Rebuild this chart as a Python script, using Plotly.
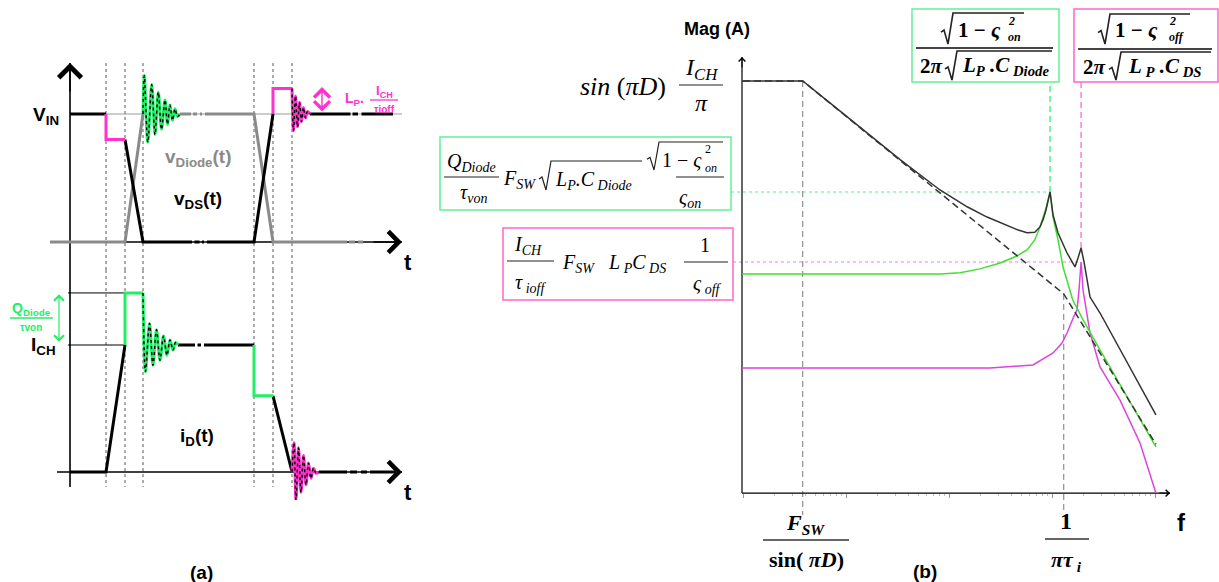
import plotly.graph_objects as go

W, H = 1219, 582
SANS = "Liberation Sans"
SERIF = "Liberation Serif"
PINK = "#ff33cc"
GREEN = "#22ee66"
GRAY = "#8a8a8a"

# ---------------- (a) switching waveforms (time in a.u.) ----------------
t_edges = [36, 55, 73, 184, 203, 222]

# v_DS(t) normalised to V_IN
vds_t = [0, 36, None, 55, 73, 122, None, 124.5, 129.5, None, 132, 134, None, 137, 184, 203,
         None, 240, 280.5, None, 282.5, 288, None, 291.5, 323]
vds_v = [1, 1, None, 0.8, 0, 0, None, 0, 0, None, 0, 0, None, 0, 0, 1,
         None, 1, 1, None, 1, 1, None, 1, 1]
vds_step_t = [36, 36, 55, None, 203, 203, 222]
vds_step_v = [1, 0.8, 0.8, None, 1, 1.2, 1.2]
vds_ring_t = [222, 223.5, 225.5, 227.5, 229.5, 231.5, 233.5, 235.5, 237.5, 240]
vds_ring_v = [1.2, 0.87, 1.14, 0.9, 1.09, 0.94, 1.05, 0.97, 1.02, 1.0]

# v_Diode(t)
vdio_t = [-20, 55, 73, None, 110, 121, None, 123, 127, None, 130, 132, None, 135, 184, 203, 277,
          None, 279, 285, None, 288, 293]
vdio_v = [0, 0, 1, None, 1, 1, None, 1, 1, None, 1, 1, None, 1, 1, 0, 0,
          None, 0, 0, None, 0, 0]
vdio_ring_t = [73, 74.3, 77.8, 81.7, 85, 88.3, 91.5, 95, 97.5, 100, 102.5, 105, 107.5, 110]
vdio_ring_v = [1.0, 1.30, 0.78, 1.23, 0.84, 1.17, 0.88, 1.11, 0.92, 1.07, 0.95, 1.04, 0.98, 1.0]

# i_D(t) normalised to I_CH
id_t = [0, 36, 55, None, 108, 125, None, 127.5, 131, None, 134, 184, None, 203, 222,
        None, 249, 277, None, 280, 287, None, 291, 297, None, 300, 325]
id_i = [0, 0, 1, None, 1, 1, None, 1, 1, None, 1, 1, None, 0.6, 0,
        None, 0, 0, None, 0, 0, None, 0, 0, None, 0, 0]
id_step_t = [55, 55, 73, None, 184, 184, 203]
id_step_i = [1, 1.41, 1.41, None, 1, 0.6, 0.6]
id_ring_on_t = [73, 75.5, 79.5, 83, 86.5, 90, 93.5, 97, 100, 103, 105.5, 108]
id_ring_on_i = [1.41, 0.79, 1.17, 0.84, 1.12, 0.88, 1.07, 0.92, 1.04, 0.96, 1.02, 1.0]
id_ring_off_t = [222, 224, 226, 228.5, 231, 233.5, 236, 238.5, 241, 243.5, 246, 249]
id_ring_off_i = [0, 0.23, -0.22, 0.19, -0.16, 0.13, -0.1, 0.07, -0.05, 0.03, -0.01, 0]

i_peak = 1.41

# ---------------- (b) spectrum magnitude (normalised, log-log) ----------------
f_knee = 3.8      # Fsw / sin(pi D)
f_i = 1300        # 1 / (pi tau_i)
f_on = 957
f_off = 1914

env_f = [1, 3.8, 1300, 10200]
env_m = [1, 1, 0.00292, 4.74e-5]

tot_f = [0.978, 3.8, 10, 33.5, 81.7, 150, 234, 320, 470, 572, 680, 764, 820, 874, 957,
         1023, 1144, 1399, 1672, 1787, 1914, 2046, 2339, 2925, 10200]
tot_m = [1, 1, 0.385, 0.116, 0.0504, 0.0318, 0.024, 0.0205, 0.0168, 0.0156, 0.0158, 0.0183,
         0.0225, 0.0291, 0.0477, 0.0254, 0.0155, 0.00896, 0.00611, 0.00781, 0.01028, 0.0070,
         0.00268, 0.00173, 1.06e-4]

on_f = [0.978, 82, 128, 200, 313, 450, 572, 680, 764, 820, 874, 957, 1023, 1144, 1279, 1589,
        2004, 2925, 10200]
on_m = [0.00504, 0.00504, 0.0052, 0.0058, 0.00681, 0.0082, 0.00973, 0.0128, 0.0183, 0.0235,
        0.0308, 0.0477, 0.0240, 0.0128, 0.00611, 0.00247, 0.00143, 6.28e-4, 4.4e-5]

off_f = [0.978, 250, 654, 1023, 1250, 1399, 1620, 1749, 1828, 1914, 2000, 2188, 2339, 2925,
         4571, 7145, 10200]
off_m = [3.83e-4, 3.83e-4, 4.16e-4, 5.78e-4, 7.6e-4, 0.001, 0.00155, 0.00188, 0.00325,
         0.0070, 0.00325, 0.00164, 0.001, 3.94e-4, 1.59e-4, 4.9e-5, 1.245e-5]
m_on_pk = 0.0477
m_tot_off_pk = 0.01028
m_off_pk = 0.0070

# ---------------- layout helpers ----------------
X3_RANGE = [-0.1748, 4.621]
Y3_RANGE = [-5.345, 0.964]
X3_DOM = [725 / W, 1.0]
Y3_DOM = [1 - 530 / H, 1.0]


def f_px(px):
    return 10 ** (X3_RANGE[0] + (px - 725) / 103.0)


def m_px(py):
    return 10 ** (Y3_RANGE[1] - py / 84.0)


fig = go.Figure()


def line(x, y, color, width, xa="x", ya="y", dash="solid", shape="linear"):
    fig.add_trace(go.Scatter(x=x, y=y, mode="lines", xaxis=xa, yaxis=ya,
                             line=dict(color=color, width=width, dash=dash, shape=shape),
                             hoverinfo="skip", showlegend=False))


annotations = []
shapes = []


def txt(x, y, s, size, color="black", family=SANS, xanchor="center"):
    annotations.append(dict(x=x / W, y=1 - y / H, xref="paper", yref="paper", text=s,
                            showarrow=False, xanchor=xanchor, yanchor="middle",
                            font=dict(size=size, color=color, family=family)))


def bar(x0, x1, y, color="#222", width=1.2, dash="solid"):
    shapes.append(dict(type="line", xref="paper", yref="paper", x0=x0 / W, x1=x1 / W,
                       y0=1 - y / H, y1=1 - y / H, line=dict(color=color, width=width, dash=dash)))


def rad(x0, ytop, ybot, x1, color="#222", width=1.2):
    h = ybot - ytop
    pts = [(x0, ytop + 0.62 * h), (x0 + 3, ytop + 0.55 * h), (x0 + 7, ybot),
           (x0 + 12, ytop), (x1, ytop)]
    path = "M " + " L ".join(f"{x / W:.5f},{1 - y / H:.5f}" for x, y in pts)
    shapes.append(dict(type="path", xref="paper", yref="paper", path=path,
                       line=dict(color=color, width=width)))


def box(x0, y0, x1, y1, color):
    shapes.append(dict(type="rect", xref="paper", yref="paper", x0=x0 / W, x1=x1 / W,
                       y0=1 - y1 / H, y1=1 - y0 / H, line=dict(color=color, width=1.5)))


def arrow(x, y, ax, ay, xref, yref, color, size, width, both=False):
    annotations.append(dict(x=x, y=y, ax=ax, ay=ay, xref=xref, yref=yref, axref="pixel",
                            ayref="pixel", text="", showarrow=True, arrowhead=4,
                            arrowsize=size, arrowwidth=width, arrowcolor=color,
                            arrowside="end+start" if both else "end"))


# ---------------- panel (a) top: voltages ----------------
v_tip, v_low = 1.398, -0.22
dots_t, dots_v = [], []
for t in t_edges:
    dots_t += [t, t, None]
    dots_v += [v_tip, v_low, None]
line(dots_t, dots_v, "#555", 1, dash="dot")
line([0, 332], [1, 1], "#9a9a9a", 1)
line([-20, 332], [0, 0], "black", 1.3)
line([0, 0], [v_low, v_tip], "black", 1.6)
line(vdio_t, vdio_v, GRAY, 3)
line(vdio_ring_t, vdio_ring_v, GREEN, 3, shape="spline")
line(vdio_ring_t, vdio_ring_v, "black", 1.4, dash="dot", shape="spline")
line(vds_t, vds_v, "black", 3)
line(vds_step_t, vds_step_v, PINK, 3)
line(vds_ring_t, vds_ring_v, PINK, 3, shape="spline")
line(vds_ring_t, vds_ring_v, "black", 1.4, dash="dot", shape="spline")
arrow(0, v_tip, 0, 30, "x", "y", "black", 2.9, 1.5)
arrow(332, 0, -30, 0, "x", "y", "black", 2.7, 1.5)
arrow(252, 1.21, 0, 26, "x", "y", PINK, 2.2, 1.4, both=True)

# ---------------- panel (a) bottom: diode current ----------------
i_top, i_low = 1.59, -0.118
dots_i = []
for t in t_edges:
    dots_i += [i_top, i_low, None]
line(dots_t, dots_i, "#555", 1, "x2", "y2", dash="dot")
line([-2, 55, None, -2, 55], [1, 1, None, i_peak, i_peak], "black", 1, "x2", "y2")
line([-13, 332], [0, 0], "black", 1.3, "x2", "y2")
line([0, 0], [i_low, i_top], "black", 1.6, "x2", "y2")
line(id_t, id_i, "black", 3, "x2", "y2")
line(id_step_t, id_step_i, GREEN, 3, "x2", "y2")
line(id_ring_on_t, id_ring_on_i, GREEN, 3, "x2", "y2", shape="spline")
line(id_ring_on_t, id_ring_on_i, "black", 1.4, "x2", "y2", dash="dot", shape="spline")
line(id_ring_off_t, id_ring_off_i, PINK, 3, "x2", "y2", shape="spline")
line(id_ring_off_t, id_ring_off_i, "black", 1.4, "x2", "y2", dash="dot", shape="spline")
arrow(332, 0, -30, 0, "x2", "y2", "black", 2.7, 1.5)
arrow(-11, 1.40, 0, 49, "x2", "y2", GREEN, 1.6, 1.2, both=True)

# ---------------- panel (b): spectrum ----------------
f_axis, m_floor, f_end, m_top = f_px(742), m_px(493), f_px(1170), m_px(57)
line([f_knee, f_knee, None, f_i, f_i], [1, m_px(515), None, env_m[2], m_px(512)],
     "#777", 1, "x3", "y3", dash="6px,4px")
line([f_on, f_on], [m_on_pk, m_px(82)], "#33ee77", 1.3, "x3", "y3", dash="6px,4px")
line([f_off, f_off], [m_tot_off_pk, m_px(82)], "#ff66dd", 1.3, "x3", "y3", dash="6px,4px")
line([f_px(731), f_on], [m_on_pk, m_on_pk], "#44ff88", 1.2, "x3", "y3", dash="dot")
line([f_px(733), f_off], [m_off_pk, m_off_pk], "#ff77ee", 1.2, "x3", "y3", dash="dot")
line([f_axis, f_end], [m_floor, m_floor], "black", 1.2, "x3", "y3")
line([f_axis, f_axis], [m_floor, m_top], "black", 1.2, "x3", "y3")
line(off_f, off_m, "#dd44dd", 1.5, "x3", "y3")
line(on_f, on_m, "#44dd33", 1.5, "x3", "y3")
line(tot_f, tot_m, "#333", 1.5, "x3", "y3")
line(env_f, env_m, "#333", 1.5, "x3", "y3", dash="7px,4px")
arrow(-0.0097, 0.2857, 0, 12, "x3", "y3", "black", 1.3, 1)
arrow(4.1456, -4.905, -12, 0, "x3", "y3", "black", 1.3, 1)

# ---------------- panel (a) labels ----------------
txt(61, 116, "<b>V<sub>IN</sub></b>", 19, xanchor="right")
txt(58, 346, "<b>I<sub>CH</sub></b>", 19, xanchor="right")
txt(31, 309, "<b>Q<sub>Diode</sub></b>", 14, GREEN)
bar(10, 53, 318, GREEN, 1.3)
txt(31, 327, "<b>τvon</b>", 10, GREEN)
txt(198, 158, "<b>v<sub>Diode</sub>(t)</b>", 19, GRAY)
txt(198, 200, "<b>v<sub>DS</sub>(t)</b>", 19)
txt(197, 437, "<b>i<sub>D</sub>(t)</b>", 19)
txt(408, 262, "<b>t</b>", 22)
txt(408, 492, "<b>t</b>", 22)
txt(343, 99, "<b>L<sub>P</sub>.</b>", 14, PINK, xanchor="left")
txt(384, 91, "<b>I<sub>CH</sub></b>", 13, PINK)
bar(370, 398, 100, PINK, 1.3)
txt(384, 109, "<b>τioff</b>", 10, PINK)
txt(201, 572, "<b>(a)</b>", 19)

# ---------------- panel (b) labels ----------------
txt(717, 29, "<b>Mag (A)</b>", 18)
txt(1181, 522, "<b>f</b>", 24)
txt(925, 571, "<b>(b)</b>", 19)

txt(668, 86, "<i>sin</i> (<i>πD</i>)", 26, family=SERIF, xanchor="right")
txt(701, 69, "<i>I<sub>CH</sub></i>", 24, family=SERIF)
bar(679, 723, 85)
txt(701, 103, "<i>π</i>", 24, family=SERIF)

box(440, 137, 731, 210, "#66ee99")
txt(471, 162, "<i>Q<sub>Diode</sub></i>", 20, family=SERIF)
bar(444, 499, 177)
txt(473, 194, "<i>τ<sub>von</sub></i>", 20, family=SERIF)
txt(519, 179, "<i>F<sub>SW</sub></i>", 20, family=SERIF)
rad(539, 161, 190, 642)
txt(553, 180, "<i>L<sub>P</sub>.C<sub> Diode</sub></i>", 20, family=SERIF, xanchor="left")
rad(647, 142, 170, 723)
txt(660, 160, "1 − <i>ς</i>", 20, family=SERIF, xanchor="left")
txt(708, 149, "2", 12, family=SERIF)
txt(711, 168, "<i>on</i>", 12, family=SERIF)
bar(676, 724, 177)
txt(690, 198, "<i>ς<sub>on</sub></i>", 20, family=SERIF)

box(503, 228, 733, 300, "#ff66cc")
txt(528, 245, "<i>I<sub>CH</sub></i>", 20, family=SERIF)
bar(507, 554, 261)
txt(530, 283, "<i>τ<sub> ioff</sub></i>", 20, family=SERIF)
txt(578, 264, "<i>F<sub>SW</sub></i>", 20, family=SERIF)
txt(637, 264, "<i>L<sub> P</sub>C<sub> DS</sub></i>", 20, family=SERIF)
txt(705, 245, "1", 20, family=SERIF)
bar(684, 728, 262)
txt(707, 284, "<i>ς<sub> off</sub></i>", 20, family=SERIF)

box(912, 9, 1059, 82, "#66ee99")
rad(941, 13, 44, 1024, "#222", 1.6)
txt(956, 30, "<b>1 − <i>ς</i></b>", 21, family=SERIF, xanchor="left")
txt(1011, 21, "<b><i>2</i></b>", 12, family=SERIF)
txt(1014, 37, "<b><i>on</i></b>", 12, family=SERIF)
bar(916, 1053, 48, "#444", 2)
txt(931, 66, "<b>2<i>π</i></b>", 21, family=SERIF)
rad(945, 51, 80, 1052, "#222", 1.6)
txt(960, 66, "<b><i>L<sub>P</sub> .C<sub> Diode</sub></i></b>", 21, family=SERIF, xanchor="left")

box(1074, 9, 1218, 82, "#ff66cc")
rad(1098, 14, 44, 1190, "#222", 1.6)
txt(1113, 30, "<b>1 − <i>ς</i></b>", 21, family=SERIF, xanchor="left")
txt(1172, 21, "<b><i>2</i></b>", 12, family=SERIF)
txt(1176, 37, "<b><i>off</i></b>", 12, family=SERIF)
bar(1078, 1212, 49, "#444", 2)
txt(1094, 67, "<b>2<i>π</i></b>", 21, family=SERIF)
rad(1109, 52, 80, 1211, "#222", 1.6)
txt(1126, 67, "<b><i>L<sub> P</sub> .C<sub> DS</sub></i></b>", 21, family=SERIF, xanchor="left")

txt(805, 524, "<b><i>F<sub>SW</sub></i></b>", 22, family=SERIF)
bar(763, 849, 540, "#333", 1.5)
txt(806, 559, "<b>sin( <i>πD</i>)</b>", 22, family=SERIF)
txt(1066, 521, "<b>1</b>", 24, family=SERIF)
bar(1045, 1089, 539, "#333", 1.5)
txt(1066, 561, "<b><i>πτ<sub> i</sub></i></b>", 22, family=SERIF)

decades = [1, 10, 100, 1000, 10000]
minor_vals = [d * k for d in [1, 10, 100, 1000] for k in range(2, 10)]

fig.update_layout(
    width=W, height=H, margin=dict(l=0, r=0, t=0, b=0),
    paper_bgcolor="white", plot_bgcolor="rgba(0,0,0,0)", showlegend=False,
    xaxis=dict(domain=[0, 420 / W], range=[-70, 350], visible=False),
    yaxis=dict(domain=[1 - 270 / H, 1 - 40 / H], range=[-0.21875, 1.578], visible=False),
    xaxis2=dict(domain=[0, 420 / W], range=[-70, 350], visible=False),
    yaxis2=dict(domain=[1 - 500 / H, 1 - 270 / H], range=[-0.2205, 1.5906], visible=False),
    xaxis3=dict(type="log", domain=X3_DOM, range=X3_RANGE, anchor="free",
                position=1 - 493 / H, showline=False, showgrid=False, zeroline=False,
                ticks="outside", ticklen=4, tickcolor="#999", tickvals=decades,
                showticklabels=False,
                minor=dict(tickvals=minor_vals, ticks="outside", ticklen=2,
                           tickcolor="#bbb", showgrid=False)),
    yaxis3=dict(type="log", domain=Y3_DOM, range=Y3_RANGE, anchor="x3", visible=False),
    annotations=annotations, shapes=shapes,
)

# the page body has a default 8px margin; drop it so the figure sits at the corner
fig.write_html("out.html", config={"displayModeBar": False},
               post_script="document.body.style.margin='0px';")
